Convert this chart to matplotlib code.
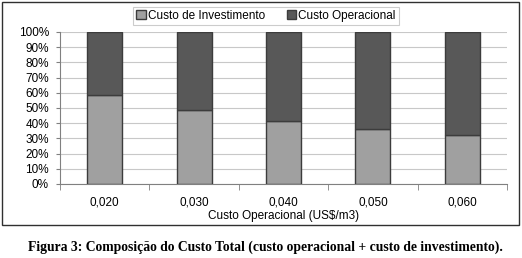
import numpy as np
import matplotlib
matplotlib.use('Agg')
import matplotlib.pyplot as plt
from matplotlib.patches import Rectangle
from matplotlib.ticker import FuncFormatter

# Data (share of total cost, %)
categorias = ['0,020', '0,030', '0,040', '0,050', '0,060']
investimento = [58.5, 49.0, 41.5, 36.0, 32.0]
operacional = [100 - v for v in investimento]

plt.rcParams['font.family'] = ['Liberation Sans', 'DejaVu Sans']

fig = plt.figure(figsize=(5.22, 2.58), dpi=100)

# outer frame around the chart
fig.patches.append(Rectangle((2 / 522, 1 - 225 / 258), 517 / 522, 223 / 258,
                             transform=fig.transFigure, fill=False,
                             edgecolor='#303030', linewidth=1.0))

ax = fig.add_axes([60 / 522, 1 - 184 / 258, 447 / 522, 152 / 258])

x = np.arange(len(categorias))
largura = 0.39
ax.bar(x, investimento, largura, color='#a0a0a0', edgecolor='#3c3c3c',
       linewidth=1.0, label='Custo de Investimento', zorder=3)
ax.bar(x, operacional, largura, bottom=investimento, color='#585858',
       edgecolor='#3c3c3c', linewidth=1.0, label='Custo Operacional', zorder=3)

ax.set_xlim(-0.5, len(categorias) - 0.5)
ax.set_ylim(0, 100)
ax.set_yticks(np.arange(0, 101, 10))
ax.yaxis.set_major_formatter(FuncFormatter(lambda v, p: f'{int(v)}%'))
ax.yaxis.grid(True, color='#c8c8c8', linewidth=0.8, zorder=0)

ax.set_xticks(x)
ax.set_xticklabels(categorias)
ax.set_xticks(np.arange(-0.5, len(categorias), 1), minor=True)
ax.tick_params(axis='x', which='major', length=0, pad=9, labelsize=8.5)
ax.tick_params(axis='x', which='minor', length=4, color='#808080', direction='out')
ax.tick_params(axis='y', length=3, color='#808080', labelsize=8.5, pad=5)

for s in ['top', 'right']:
    ax.spines[s].set_visible(False)
for s in ['left', 'bottom']:
    ax.spines[s].set_color('#808080')

ax.set_xlabel('Custo Operacional (US$/m3)', fontsize=8.5, labelpad=1)

leg = fig.legend(loc='center', bbox_to_anchor=(266 / 522, 1 - 16 / 258),
                 ncol=2, fontsize=8.5, frameon=True, fancybox=False,
                 handlelength=0.8, handleheight=0.8, handletextpad=0.2,
                 columnspacing=1.8, borderpad=0.25, edgecolor='#c0c0c0')
leg.get_frame().set_linewidth(0.8)

fig.text(265 / 522, 1 - 247 / 258,
         'Figura 3: Composição do Custo Total (custo operacional + custo de investimento).',
         ha='center', va='center', fontsize=9.8, fontweight='bold',
         family=['Liberation Serif', 'DejaVu Serif'])

fig.savefig('out.png', dpi=100)
